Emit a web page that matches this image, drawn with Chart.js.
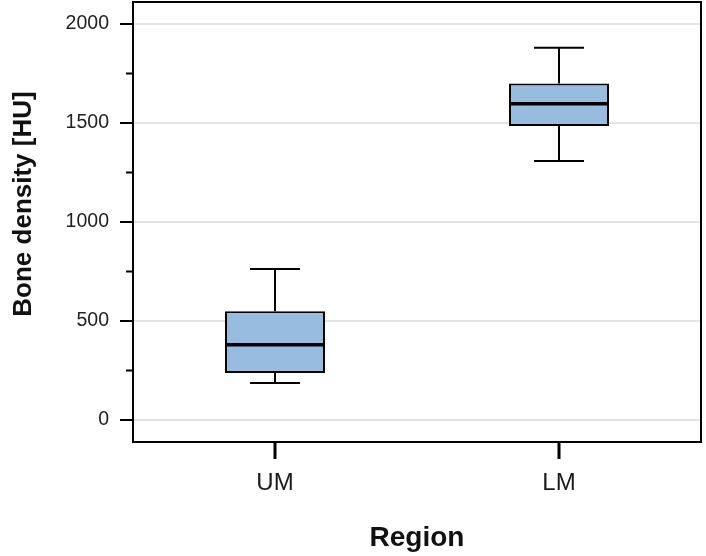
<!DOCTYPE html>
<html>
<head>
<meta charset="utf-8">
<script src="https://cdn.jsdelivr.net/npm/chart.js@4"></script>
<style>
  html, body { margin: 0; padding: 0; background: #fff; }
  #wrap { width: 706px; height: 556px; }
</style>
</head>
<body>
<div id="wrap"><canvas id="boxChart" width="706" height="556"></canvas></div>
<script>
const categories = ["UM", "LM"];
const whiskerLow = [187, 1308];
const q1 = [237, 1485];
const median = [380, 1597];
const q3 = [549, 1700];
const whiskerHigh = [763, 1880];
const yTicks = [0, 500, 1000, 1500, 2000];
const yMinorTicks = [250, 750, 1250, 1750];
const yTitle = "Bone density [HU]";

const fontFamily = "'Liberation Sans', Arial, sans-serif";

// whiskers, medians, tick marks, y title and the panel frame
const boxExtras = {
    id: "boxExtras",
    afterDatasetsDraw(chart) {
        const ctx = chart.ctx;
        const y = chart.scales.y;
        const meta = chart.getDatasetMeta(0);
        ctx.save();
        ctx.strokeStyle = "#000";
        ctx.lineCap = "butt";
        meta.data.forEach((bar, i) => {
            const half = bar.width / 2;
            const cap = bar.width / 4;
            const yLow = y.getPixelForValue(whiskerLow[i]);
            const yHigh = y.getPixelForValue(whiskerHigh[i]);
            const yQ1 = y.getPixelForValue(q1[i]);
            const yQ3 = y.getPixelForValue(q3[i]);
            const yMed = y.getPixelForValue(median[i]);
            ctx.lineWidth = 2;
            ctx.beginPath();
            ctx.moveTo(bar.x, yQ3); ctx.lineTo(bar.x, yHigh);
            ctx.moveTo(bar.x - cap, yHigh); ctx.lineTo(bar.x + cap, yHigh);
            ctx.moveTo(bar.x, yQ1); ctx.lineTo(bar.x, yLow);
            ctx.moveTo(bar.x - cap, yLow); ctx.lineTo(bar.x + cap, yLow);
            ctx.stroke();
            ctx.lineWidth = 3.5;
            ctx.beginPath();
            ctx.moveTo(bar.x - half, yMed); ctx.lineTo(bar.x + half, yMed);
            ctx.stroke();
        });
        ctx.restore();
    },
    afterDraw(chart) {
        const ctx = chart.ctx;
        const area = chart.chartArea;
        const y = chart.scales.y;
        const x = chart.scales.x;
        ctx.save();
        ctx.strokeStyle = "#000";
        ctx.lineWidth = 2;
        ctx.strokeRect(area.left, area.top, area.right - area.left, area.bottom - area.top);
        ctx.beginPath();
        yTicks.forEach(v => {
            const py = y.getPixelForValue(v);
            ctx.moveTo(area.left - 13, py); ctx.lineTo(area.left, py);
        });
        yMinorTicks.forEach(v => {
            const py = y.getPixelForValue(v);
            ctx.moveTo(area.left - 7, py); ctx.lineTo(area.left, py);
        });
        ctx.stroke();
        ctx.lineWidth = 3;
        ctx.beginPath();
        categories.forEach((c, i) => {
            const px = x.getPixelForTick(i);
            ctx.moveTo(px, area.bottom); ctx.lineTo(px, area.bottom + 17);
        });
        ctx.stroke();

        // y axis title, sits a little above the panel centre in the original
        ctx.translate(24, (area.top + area.bottom) / 2 - 18);
        ctx.rotate(-Math.PI / 2);
        ctx.fillStyle = "#111";
        ctx.font = "bold 26px " + fontFamily;
        ctx.textAlign = "center";
        ctx.textBaseline = "middle";
        ctx.fillText(yTitle, 0, 0);
        ctx.restore();
    }
};

const ctx = document.getElementById("boxChart").getContext("2d");
const boxChart = new Chart(ctx, {
    type: "bar",
    data: {
        labels: categories,
        datasets: [{
            label: "Bone density",
            data: q1.map((v, i) => [v, q3[i]]),
            backgroundColor: "#97bcdf",
            borderColor: "#000",
            borderWidth: 2,
            borderSkipped: false,
            barPercentage: 0.352,
            categoryPercentage: 1,
        }],
    },
    options: {
        responsive: false,
        animation: false,
        layout: { padding: { top: 2, right: 5, left: 0, bottom: 0 } },
        plugins: {
            legend: { display: false },
            tooltip: { enabled: false },
        },
        scales: {
            x: {
                grid: { display: false, drawTicks: false },
                border: { display: false },
                ticks: {
                    padding: 27,
                    color: "#1a1a1a",
                    font: { family: fontFamily, size: 24 },
                },
                title: {
                    display: true,
                    text: "Region",
                    color: "#111",
                    padding: { top: 0, bottom: 1 },
                    font: { family: fontFamily, size: 28, weight: "bold" },
                },
                afterFit(scale) {
                    scale.height = 114;
                    scale.paddingLeft = 0;
                    scale.paddingRight = 0;
                },
            },
            y: {
                min: -111,
                max: 2111,
                afterBuildTicks(scale) {
                    scale.ticks = yTicks.map(v => ({ value: v }));
                },
                grid: { color: "#e4e4e4", lineWidth: 2, drawTicks: false },
                border: { display: false },
                ticks: {
                    padding: 24,
                    color: "#222",
                    font: { family: fontFamily, size: 19.5 },
                    callback: v => String(v),
                },
                title: { display: false },
                afterFit(scale) {
                    scale.width = 133;
                    scale.paddingTop = 0;
                    scale.paddingBottom = 0;
                },
            },
        },
    },
    plugins: [boxExtras],
});
</script>
</body>
</html>
